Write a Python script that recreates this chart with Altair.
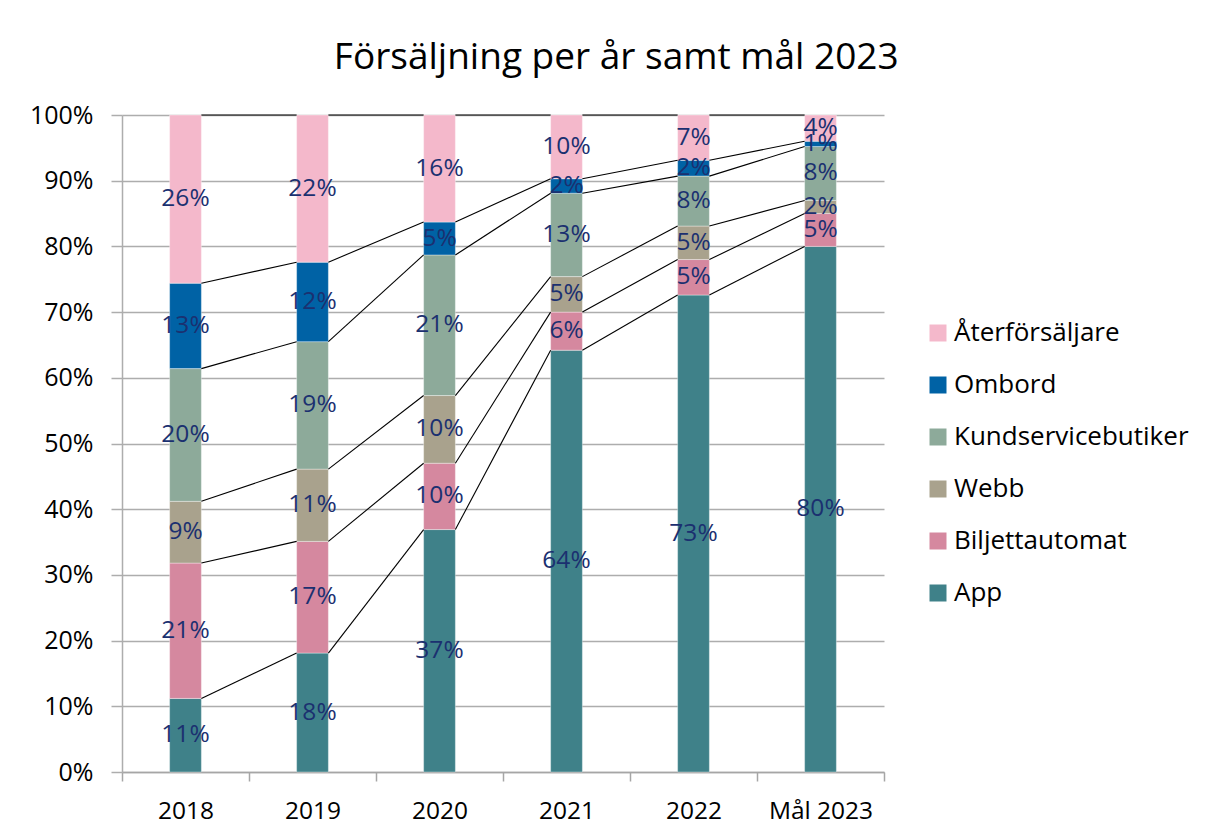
import altair as alt
import pandas as pd

years = ["2018", "2019", "2020", "2021", "2022", "Mål 2023"]
series = ["App", "Biljettautomat", "Webb", "Kundservicebutiker", "Ombord", "Återförsäljare"]
app = [11.2, 18.1, 36.9, 64.2, 72.6, 80.0]
biljettautomat = [20.6, 17.0, 10.1, 5.8, 5.4, 5.0]
webb = [9.4, 11.0, 10.3, 5.4, 5.1, 2.0]
kundservice = [20.2, 19.4, 21.4, 12.7, 7.6, 8.2]
ombord = [13.0, 12.1, 5.0, 2.2, 2.4, 0.8]
aterforsaljare = [25.6, 22.4, 16.3, 9.7, 6.9, 4.0]
colors = ["#3F8189", "#D5889F", "#A9A28D", "#8DAA9A", "#0062A5", "#F4B8CB"]
y_ticks = [0, 10, 20, 30, 40, 50, 60, 70, 80, 90, 100]

values = [app, biljettautomat, webb, kundservice, ombord, aterforsaljare]

rows = []
cum = []
for i, yr in enumerate(years):
    base = 0.0
    tops = []
    for k, s in enumerate(series):
        v = values[k][i]
        rows.append({"year": yr, "series": s, "order": k, "y0": base, "y1": base + v,
                     "mid": base + v / 2, "label": f"{round(v):d}%"})
        base += v
        tops.append(base)
    cum.append(tops)
bars_df = pd.DataFrame(rows)

line_rows = []
for i in range(len(years) - 1):
    for k in range(len(series)):
        line_rows.append({"year": years[i], "next": years[i + 1],
                          "ya": cum[i][k], "yb": cum[i + 1][k]})
lines_df = pd.DataFrame(line_rows)

FONT = "Open Sans"
legend_domain = series[::-1]
legend_range = colors[::-1]

PLOT_W = 762
STEP = PLOT_W / len(years)
BAR_FRAC = 0.25
HALF_BAR = STEP * BAR_FRAC / 2

xscale = alt.Scale(domain=years, paddingInner=0, paddingOuter=0)
yscale = alt.Scale(domain=[0, 100], nice=False)

x_axis = alt.Axis(title=None, tickBand="extent", tickSize=9, labelFontSize=24.5, labelFont=FONT,
                  labelColor="#000000", labelPadding=18, labelAngle=0, grid=False,
                  domainColor="#A6A6A6", tickColor="#A6A6A6", domainWidth=1.5, tickWidth=1.5)
y_axis = alt.Axis(title=None, values=y_ticks, labelExpr="datum.value + '%'", grid=True,
                  gridColor="#ADADAD", gridWidth=1.5, tickSize=11, tickColor="#ADADAD",
                  tickWidth=1.5, domainColor="#ADADAD", domainWidth=1.5, labelFontSize=25,
                  labelFont=FONT, labelColor="#000000", labelPadding=18)

bars = alt.Chart(bars_df).mark_bar(width=alt.RelativeBandSize(BAR_FRAC), stroke="#FFFFFF",
                                   strokeWidth=0.6, strokeOpacity=0.6).encode(
    x=alt.X("year:N", scale=xscale, axis=x_axis, sort=years),
    y=alt.Y("y0:Q", scale=yscale, axis=y_axis),
    y2="y1:Q",
    color=alt.Color("series:N", scale=alt.Scale(domain=legend_domain, range=legend_range),
                    legend=alt.Legend(title=None, orient="none", legendX=803, legendY=205,
                                      symbolType="square", symbolSize=289, symbolStrokeWidth=0,
                                      labelFontSize=26, labelFont=FONT, labelColor="#000000",
                                      rowPadding=26, labelOffset=3, labelLimit=400, padding=0)),
)

lines = alt.Chart(lines_df).mark_rule(color="#000000", strokeWidth=1.1,
                                      xOffset=HALF_BAR, x2Offset=-HALF_BAR).encode(
    x=alt.X("year:N", scale=xscale, sort=years),
    x2="next:N",
    y=alt.Y("ya:Q", scale=yscale),
    y2="yb:Q",
)

texts = alt.Chart(bars_df).mark_text(fontSize=24.5, font=FONT, color="#1B3070",
                                     baseline="middle", align="center").encode(
    x=alt.X("year:N", scale=xscale, sort=years),
    y=alt.Y("mid:Q", scale=yscale),
    text="label:N",
)

chart = alt.layer(bars, lines, texts).properties(
    width=PLOT_W, height=657,
    autosize="none",
    padding={"left": 114, "top": 107, "right": 322, "bottom": 57},
    title=alt.Title("Försäljning per år samt mål 2023", fontSize=37, font=FONT,
                    fontWeight="normal", color="#000000", anchor="middle", frame="bounds",
                    offset=26, dx=7),
).configure_view(strokeWidth=0)

chart.save("out.html", embed_options={"renderer": "svg", "actions": False})
